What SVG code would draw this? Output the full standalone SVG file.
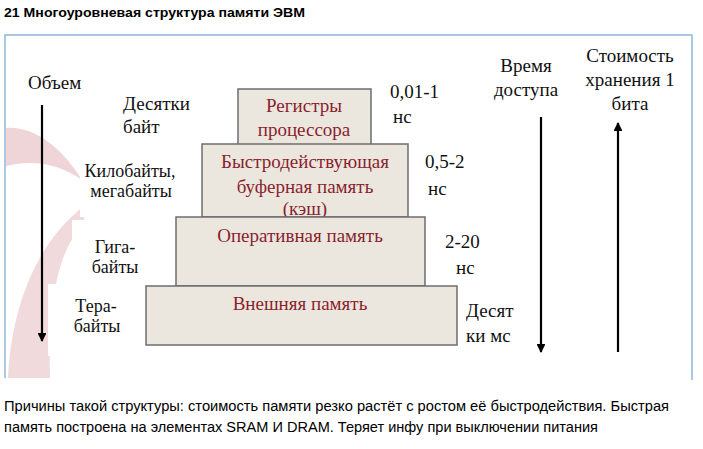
<svg xmlns="http://www.w3.org/2000/svg" width="703" height="449" viewBox="0 0 703 449">
<style>
.ttl{font-family:"Liberation Sans",Arial,sans-serif;font-weight:bold;font-size:13.5px;fill:#000}
.body{font-family:"Liberation Sans",Arial,sans-serif;font-size:14px;fill:#000}
.lbl{font-family:"Liberation Serif","Times New Roman",serif;font-size:19px;fill:#111}
.sm{font-size:18px}
.box{fill:#ebe7df;stroke:#6d6d6d;stroke-width:1.5}
.in{font-family:"Liberation Serif","Times New Roman",serif;font-size:19px;fill:#8a1f2e;text-anchor:middle}
.arr{stroke:#000;stroke-width:2.2;fill:none}
</style>
<defs>
<marker id="ah" viewBox="0 0 10 10" refX="9" refY="5" markerWidth="4" markerHeight="4" orient="auto" markerUnits="strokeWidth">
<path d="M0,0 L10,5 L0,10 Z" fill="#000"/>
</marker>
</defs>
<rect width="703" height="449" fill="#fff"/>
<text class="ttl" x="4" y="17" textLength="301" lengthAdjust="spacingAndGlyphs">21 Многоуровневая структура памяти ЭВМ</text>
<path d="M5,378 V35 H692 V380" fill="none" stroke="#8fb6da" stroke-width="1.5"/>
<g id="bg">
<path d="M6,128 C35,126 62,148 82,180 C56,162 32,160 6,166 Z" fill="#e2b3b6" opacity="0.55"/>
<path d="M8,378 C12,300 40,240 84,206 L84,224 C58,250 48,300 50,378 Z" fill="#e8c2c4" opacity="0.6"/>
<rect x="80" y="147" width="122" height="70" fill="#fff"/>
<rect x="72" y="220" width="104" height="66" fill="#fff"/>
<rect x="48" y="284" width="98" height="72" fill="#fff"/>
</g>
<g id="n-registers"><rect class="box" x="238" y="89" width="133" height="56"/><text class="in" x="304" y="112">Регистры</text><text class="in" x="304" y="136">процессора</text></g>
<g id="n-cache"><rect class="box" x="202" y="144" width="206" height="73"/><text class="in" x="305" y="168">Быстродействующая</text><text class="in" x="305" y="193">буферная память</text><text class="in" x="305" y="215">(кэш)</text></g>
<g id="n-ram"><rect class="box" x="176" y="217" width="249" height="69"/><text class="in" x="300" y="242">Оперативная память</text></g>
<g id="n-ext"><rect class="box" x="146" y="286" width="311" height="59"/><text class="in" x="300" y="310">Внешняя память</text></g>
<g id="labels-left">
<text class="lbl" x="28" y="89">Объем</text>
<text class="lbl" x="123" y="110">Десятки</text>
<text class="lbl" x="123" y="133">байт</text>
<text class="lbl sm" x="130" y="177" text-anchor="middle">Килобайты,</text>
<text class="lbl sm" x="131" y="197" text-anchor="middle">мегабайты</text>
<text class="lbl sm" x="115" y="253" text-anchor="middle">Гига-</text>
<text class="lbl sm" x="115" y="273" text-anchor="middle">байты</text>
<text class="lbl sm" x="96" y="312" text-anchor="middle">Тера-</text>
<text class="lbl sm" x="97" y="332" text-anchor="middle">байты</text>
</g>
<g id="labels-right">
<text class="lbl" x="390" y="98">0,01-1</text>
<text class="lbl" x="393" y="123">нс</text>
<text class="lbl" x="425" y="168">0,5-2</text>
<text class="lbl" x="428" y="195">нс</text>
<text class="lbl" x="445" y="248">2-20</text>
<text class="lbl" x="456" y="274">нс</text>
<text class="lbl" x="466" y="317">Десят</text>
<text class="lbl" x="466" y="342">ки мс</text>
<text class="lbl" x="526" y="72" text-anchor="middle">Время</text>
<text class="lbl" x="526" y="96" text-anchor="middle">доступа</text>
<text class="lbl" x="630" y="62" text-anchor="middle">Стоимость</text>
<text class="lbl" x="630" y="86" text-anchor="middle">хранения 1</text>
<text class="lbl" x="630" y="110" text-anchor="middle">бита</text>
</g>
<g id="connectors">
<line class="arr" x1="42" y1="105" x2="42" y2="341" marker-end="url(#ah)"/>
<line class="arr" x1="541" y1="117" x2="541" y2="352" marker-end="url(#ah)"/>
<line class="arr" x1="618" y1="352" x2="618" y2="123" marker-end="url(#ah)"/>
</g>
<text class="body" x="4" y="411" textLength="665" lengthAdjust="spacingAndGlyphs">Причины такой структуры: стоимость памяти резко растёт с ростом её быстродействия. Быстрая</text>
<text class="body" x="4" y="432" textLength="594" lengthAdjust="spacingAndGlyphs">память построена на элементах SRAM И DRAM. Теряет инфу при выключении питания</text>
</svg>
